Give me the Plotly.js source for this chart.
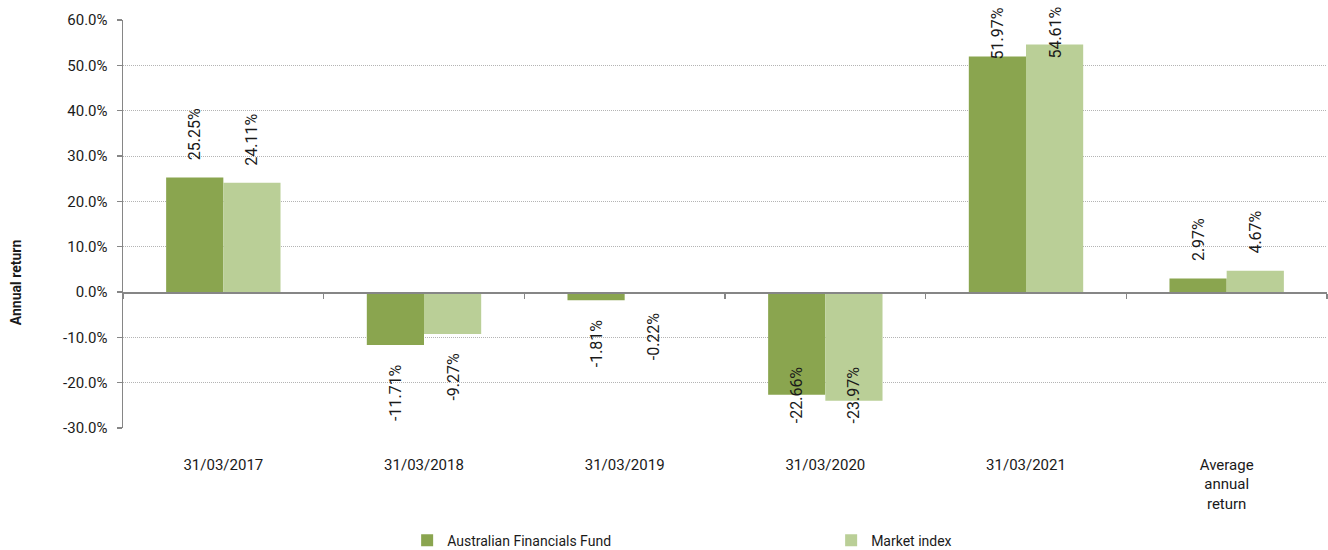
<!DOCTYPE html>
<html>
<head>
<meta charset="utf-8">
<script src="https://cdn.plot.ly/plotly-3.0.1.min.js"></script>
<style>html,body{margin:0;padding:0;background:#fff;}#chart{width:1328px;height:550px;}</style>
</head>
<body>
<div id="chart"></div>
<script>
// ---- data ----
const categories = ['31/03/2017', '31/03/2018', '31/03/2019', '31/03/2020', '31/03/2021', 'Average<br>annual<br>return'];
const fundName = 'Australian Financials Fund';
const marketName = 'Market index';
const fundValues = [25.25, -11.71, -1.81, -22.66, 51.97, 2.97];
const marketValues = [24.11, -9.27, -0.22, -23.97, 54.61, 4.67];
const yTickValues = [-30, -20, -10, 0, 10, 20, 30, 40, 50, 60];
const yTickLabels = ['-30.0%', '-20.0%', '-10.0%', '0.0%', '10.0%', '20.0%', '30.0%', '40.0%', '50.0%', '60.0%'];

// ---- styles ----
const fundColor = '#8aa54f';
const marketColor = '#bacf97';
const axisGray = '#868686';
const textColor = '#1a1a1a';
const font = 'Roboto, "Open Sans", sans-serif';

const W = 1328, H = 550;
const margin = {l: 123, r: 1, t: 20, b: 122, pad: 0, autoexpand: false};
const yRange = [-30, 60];
const plotH = H - margin.t - margin.b;
const pxPerUnit = plotH / (yRange[1] - yRange[0]);
const bargap = 0.43;
const barOffset = (1 - bargap) / 4;
const labelSize = 16;

function labelLen(txt) { return txt.length * 0.54 * labelSize; }

function makeLabels(values, offset) {
  return values.map((v, i) => {
    const txt = v.toFixed(2) + '%';
    const L = labelLen(txt);
    const base = {
      xref: 'x', x: i + offset, text: txt, showarrow: false, textangle: -90,
      font: {family: font, size: labelSize, color: textColor}, xanchor: 'center'
    };
    if (v >= 0) {
      const topPx = (yRange[1] - v) * pxPerUnit - 15 - L;
      if (topPx < -15) {
        return Object.assign(base, {yref: 'paper', y: 1, yanchor: 'top', yshift: 15});
      }
      return Object.assign(base, {yref: 'y', y: v, yanchor: 'bottom', yshift: 15});
    } else {
      const bottomPx = (yRange[1] - v) * pxPerUnit + 17 + L;
      if (bottomPx > plotH - 3) {
        return Object.assign(base, {yref: 'y', y: yRange[0], yanchor: 'bottom', yshift: 3});
      }
      return Object.assign(base, {yref: 'y', y: v, yanchor: 'top', yshift: -17});
    }
  });
}

const traces = [
  {type: 'bar', name: fundName, x: categories, y: fundValues,
   marker: {color: fundColor, line: {width: 0}}, hoverinfo: 'skip'},
  {type: 'bar', name: marketName, x: categories, y: marketValues,
   marker: {color: marketColor, line: {width: 0}}, hoverinfo: 'skip'}
];

const annotations = makeLabels(fundValues, -barOffset)
  .concat(makeLabels(marketValues, barOffset))
  .concat([{
    xref: 'paper', yref: 'paper', x: -0.089, y: 0.357, text: '<b>Annual return</b>',
    textangle: -90, showarrow: false, xanchor: 'center', yanchor: 'middle',
    font: {family: font, size: 14, color: textColor}
  }]);

const layout = {
  width: W, height: H, margin: margin,
  paper_bgcolor: '#fff', plot_bgcolor: '#fff',
  barmode: 'group', bargap: bargap, bargroupgap: 0,
  showlegend: true,
  legend: {
    orientation: 'h', x: 0.236, xanchor: 'left', y: -0.276, yanchor: 'middle',
    font: {family: font, size: 14, color: textColor},
    entrywidth: 379, itemwidth: 30, traceorder: 'normal'
  },
  xaxis: {
    type: 'category', categoryorder: 'array', categoryarray: categories,
    anchor: 'free', position: (0 - yRange[0]) / (yRange[1] - yRange[0]),
    showline: true, linecolor: axisGray, linewidth: 1.5,
    ticks: 'outside', tickson: 'boundaries', ticklen: 5, tickcolor: axisGray, tickwidth: 1.5,
    showgrid: false, zeroline: false,
    tickfont: {family: font, size: 15, color: textColor},
    ticklabelstandoff: 158, tickangle: 0, fixedrange: true
  },
  yaxis: {
    range: yRange, tickmode: 'array', tickvals: yTickValues, ticktext: yTickLabels,
    showline: true, linecolor: axisGray, linewidth: 1.5,
    ticks: 'outside', ticklen: 5, tickcolor: axisGray, tickwidth: 1.5,
    showgrid: true, gridcolor: '#b4b4b4', gridwidth: 1, griddash: '1px,1px',
    zeroline: false,
    tickfont: {family: font, size: 15, color: textColor},
    ticklabelstandoff: 6,
    fixedrange: true
  },
  annotations: annotations
};

Plotly.newPlot('chart', traces, layout, {displayModeBar: false, staticPlot: true});
</script>
</body>
</html>
